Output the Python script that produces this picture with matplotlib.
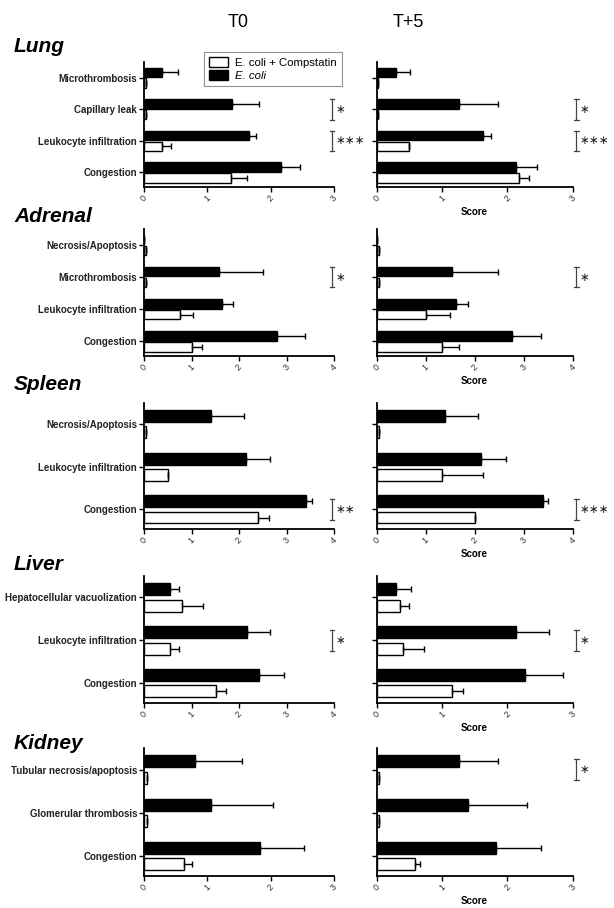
import matplotlib
matplotlib.use('Agg')
import matplotlib.pyplot as plt
import matplotlib.transforms as mtransforms
from matplotlib.patches import Patch
import numpy as np

plt.rcParams['font.family'] = ['Liberation Sans', 'DejaVu Sans']

# ---- data (categories listed top to bottom as drawn) ----
lung_cats = ['Microthrombosis', 'Capillary leak', 'Leukocyte infiltration', 'Congestion']
lung_t0_ecoli = [0.29, 1.39, 1.65, 2.16]
lung_t0_ecoli_err = [0.24, 0.43, 0.12, 0.31]
lung_t0_comp = [0.03, 0.03, 0.28, 1.38]
lung_t0_comp_err = [0, 0, 0.14, 0.25]
lung_t5_ecoli = [0.30, 1.26, 1.63, 2.14]
lung_t5_ecoli_err = [0.22, 0.60, 0.12, 0.31]
lung_t5_comp = [0.03, 0.03, 0.49, 2.18]
lung_t5_comp_err = [0, 0, 0, 0.16]

adrenal_cats = ['Necrosis/Apoptosis', 'Microthrombosis', 'Leukocyte infiltration', 'Congestion']
adrenal_t0_ecoli = [0, 1.57, 1.65, 2.79]
adrenal_t0_ecoli_err = [0, 0.93, 0.22, 0.60]
adrenal_t0_comp = [0.04, 0.04, 0.76, 1.02]
adrenal_t0_comp_err = [0, 0, 0.28, 0.20]
adrenal_t5_ecoli = [0, 1.54, 1.63, 2.77]
adrenal_t5_ecoli_err = [0, 0.94, 0.24, 0.58]
adrenal_t5_comp = [0.05, 0.05, 1.00, 1.34]
adrenal_t5_comp_err = [0, 0, 0.51, 0.34]

spleen_cats = ['Necrosis/Apoptosis', 'Leukocyte infiltration', 'Congestion']
spleen_t0_ecoli = [1.41, 2.15, 3.42]
spleen_t0_ecoli_err = [0.69, 0.51, 0.12]
spleen_t0_comp = [0.05, 0.50, 2.40]
spleen_t0_comp_err = [0, 0, 0.23]
spleen_t5_ecoli = [1.39, 2.14, 3.39]
spleen_t5_ecoli_err = [0.68, 0.51, 0.11]
spleen_t5_comp = [0.05, 1.34, 2.01]
spleen_t5_comp_err = [0, 0.84, 0]

liver_cats = ['Hepatocellular vacuolization', 'Leukocyte infiltration', 'Congestion']
liver_t0_ecoli = [0.54, 2.17, 2.42]
liver_t0_ecoli_err = [0.19, 0.49, 0.52]
liver_t0_comp = [0.80, 0.54, 1.52]
liver_t0_comp_err = [0.45, 0.19, 0.21]
liver_t5_ecoli = [0.30, 2.14, 2.27]
liver_t5_ecoli_err = [0.23, 0.50, 0.59]
liver_t5_comp = [0.36, 0.40, 1.16]
liver_t5_comp_err = [0.13, 0.32, 0.17]

kidney_cats = ['Tubular necrosis/apoptosis', 'Glomerular thrombosis', 'Congestion']
kidney_t0_ecoli = [0.81, 1.05, 1.83]
kidney_t0_ecoli_err = [0.73, 0.99, 0.70]
kidney_t0_comp = [0.04, 0.04, 0.63]
kidney_t0_comp_err = [0, 0, 0.12]
kidney_t5_ecoli = [1.26, 1.40, 1.83]
kidney_t5_ecoli_err = [0.60, 0.90, 0.69]
kidney_t5_comp = [0.04, 0.04, 0.59]
kidney_t5_comp_err = [0, 0, 0.07]

# significance: category index -> stars
lung_sig_t0 = {1: '*', 2: '***'}
lung_sig_t5 = {1: '*', 2: '***'}
adrenal_sig_t0 = {1: '*'}
adrenal_sig_t5 = {1: '*'}
spleen_sig_t0 = {2: '**'}
spleen_sig_t5 = {2: '***'}
liver_sig_t0 = {1: '*'}
liver_sig_t5 = {1: '*'}
kidney_sig_t0 = {}
kidney_sig_t5 = {0: '*'}

W, H = 614, 908
fig = plt.figure(figsize=(W / 100, H / 100), dpi=100)

def px_axes(x0, top, width, bottom):
    return fig.add_axes([x0 / W, 1 - bottom / H, width / W, (bottom - top) / H])

def panel(ax, cats, ecoli, ecoli_err, comp, comp_err, xmax, sig, show_labels, sig_x, xlabel):
    n = len(cats)
    y = np.arange(n)[::-1]
    bh = 0.3 if n == 4 else 0.28
    off = 0.17 if n == 4 else 0.19
    ek = dict(elinewidth=1.0, capsize=2.2, capthick=1.0, ecolor='black')
    ax.barh(y + off, ecoli, height=bh, color='black', edgecolor='black', lw=1.0,
            xerr=[np.zeros(n), ecoli_err], error_kw=ek)
    ax.barh(y - off, comp, height=bh, color='white', edgecolor='black', lw=1.0,
            xerr=[np.zeros(n), comp_err], error_kw=ek)
    ax.set_xlim(0, xmax)
    ax.set_ylim(-0.46, n - 0.5)
    ax.set_xticks(range(xmax + 1))
    ax.set_xticklabels([str(v) for v in range(xmax + 1)], rotation=45, ha='center',
                       va='top', fontsize=6.5, color='#333333')
    ax.set_yticks(y)
    if show_labels:
        ax.set_yticklabels(cats, fontsize=7, fontweight='bold', color='#222222')
    else:
        ax.set_yticklabels([])
    for s in ['top', 'right']:
        ax.spines[s].set_visible(False)
    for s in ['left', 'bottom']:
        ax.spines[s].set_linewidth(1.3)
    ax.tick_params(axis='both', length=3.5, width=1.0, pad=1.5)
    if xlabel:
        ax.set_xlabel('Score', fontsize=7, fontweight='bold', labelpad=2)
    trans = mtransforms.blended_transform_factory(ax.transAxes, ax.transData)
    half = 0.08 * (n + 0.04)
    for i, stars in sig.items():
        yc = y[i]
        ax.plot([sig_x, sig_x], [yc - half, yc + half], color='#444444', lw=0.9,
                transform=trans, clip_on=False)
        for yy in (yc - half, yc + half):
            ax.plot([sig_x - 0.012, sig_x + 0.012], [yy, yy], color='#444444', lw=0.9,
                    transform=trans, clip_on=False)
        ax.text(sig_x + 0.018, yc, '\u2217' * len(stars), transform=trans, fontsize=8.5,
                va='center', ha='left', family='DejaVu Sans', color='#222222')

organs = [
    ('Lung', lung_cats, 62, 187, 52,
     (lung_t0_ecoli, lung_t0_ecoli_err, lung_t0_comp, lung_t0_comp_err, 3, lung_sig_t0),
     (lung_t5_ecoli, lung_t5_ecoli_err, lung_t5_comp, lung_t5_comp_err, 3, lung_sig_t5)),
    ('Adrenal', adrenal_cats, 229, 356, 222,
     (adrenal_t0_ecoli, adrenal_t0_ecoli_err, adrenal_t0_comp, adrenal_t0_comp_err, 4, adrenal_sig_t0),
     (adrenal_t5_ecoli, adrenal_t5_ecoli_err, adrenal_t5_comp, adrenal_t5_comp_err, 4, adrenal_sig_t5)),
    ('Spleen', spleen_cats, 403, 529, 390,
     (spleen_t0_ecoli, spleen_t0_ecoli_err, spleen_t0_comp, spleen_t0_comp_err, 4, spleen_sig_t0),
     (spleen_t5_ecoli, spleen_t5_ecoli_err, spleen_t5_comp, spleen_t5_comp_err, 4, spleen_sig_t5)),
    ('Liver', liver_cats, 576, 703, 570,
     (liver_t0_ecoli, liver_t0_ecoli_err, liver_t0_comp, liver_t0_comp_err, 4, liver_sig_t0),
     (liver_t5_ecoli, liver_t5_ecoli_err, liver_t5_comp, liver_t5_comp_err, 3, liver_sig_t5)),
    ('Kidney', kidney_cats, 748, 876, 749,
     (kidney_t0_ecoli, kidney_t0_ecoli_err, kidney_t0_comp, kidney_t0_comp_err, 3, kidney_sig_t0),
     (kidney_t5_ecoli, kidney_t5_ecoli_err, kidney_t5_comp, kidney_t5_comp_err, 3, kidney_sig_t5)),
]

for name, cats, top, bottom, title_base, t0, t5 in organs:
    ax0 = px_axes(144, top, 190, bottom)
    panel(ax0, cats, *t0[:5], t0[5], True, 0.99, False)
    ax1 = px_axes(376.5, top, 196, bottom)
    panel(ax1, cats, *t5[:5], t5[5], False, 1.02, True)
    fig.text(14 / W, 1 - title_base / H, name, fontsize=15, fontweight='bold',
             fontstyle='italic', va='baseline', ha='left')

fig.text(238 / W, 1 - 27 / H, 'T0', fontsize=13, ha='center', va='baseline')
fig.text(408 / W, 1 - 27 / H, 'T+5', fontsize=13, ha='center', va='baseline')

handles = [Patch(facecolor='white', edgecolor='black', lw=1.0),
           Patch(facecolor='black', edgecolor='black', lw=1.0)]
leg = fig.legend(handles, ['E. coli + Compstatin', 'E. coli'], loc='upper left',
                 bbox_to_anchor=(204 / W, 1 - 52 / H), fontsize=8.2, frameon=True,
                 fancybox=False, borderaxespad=0, handlelength=1.7, handleheight=0.9,
                 handletextpad=0.6, labelspacing=0.2, borderpad=0.45)
leg.get_frame().set_edgecolor('#777777')
leg.get_frame().set_linewidth(0.8)
leg.get_texts()[1].set_fontstyle('italic')

fig.savefig('out.png', dpi=100)
